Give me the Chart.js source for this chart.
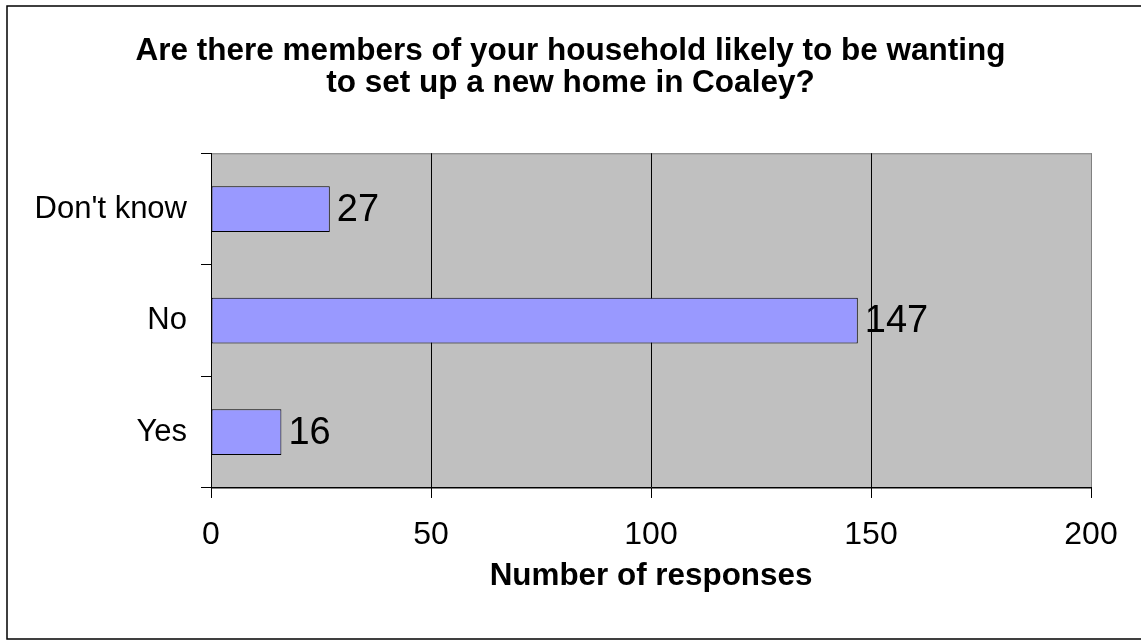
<!DOCTYPE html>
<html>
<head>
<meta charset="utf-8">
<script src="https://cdn.jsdelivr.net/npm/chart.js@4"></script>
<style>
  html, body { margin: 0; padding: 0; background: #fff; }
  #wrap { width: 1141px; height: 641px; }
</style>
</head>
<body>
<div id="wrap"><canvas id="householdChart" width="1141" height="641"></canvas></div>
<script>
// data
const categories = ["Don't know", 'No', 'Yes'];
const responses = [27, 147, 16];
const xTicks = [0, 50, 100, 150, 200];
const titleLines = [
  'Are there members of your household likely to be wanting',
  'to set up a new home in Coaley?',
];

const FONT = "'Liberation Sans', Arial, sans-serif";

// white page, black frame, grey plot area
const framePlugin = {
  id: 'frame',
  beforeDraw(chart) {
    const ctx = chart.ctx;
    ctx.save();
    ctx.fillStyle = '#fff';
    ctx.fillRect(0, 0, chart.width, chart.height);
    ctx.strokeStyle = '#000';
    ctx.lineWidth = 1.5;
    ctx.strokeRect(7, 6, 1145, 633);
    const a = chart.chartArea;
    ctx.fillStyle = '#c0c0c0';
    ctx.fillRect(a.left, a.top, a.right - a.left, a.bottom - a.top);
    ctx.strokeStyle = '#808080';
    ctx.lineWidth = 1;
    ctx.strokeRect(a.left + 0.5, a.top + 0.5, a.right - a.left, a.bottom - a.top);
    ctx.restore();
  },
};

// value labels to the right of each bar
const valueLabels = {
  id: 'valueLabels',
  afterDatasetsDraw(chart) {
    const ctx = chart.ctx;
    const meta = chart.getDatasetMeta(0);
    ctx.save();
    ctx.font = '38px ' + FONT;
    ctx.fillStyle = '#000';
    ctx.textAlign = 'left';
    ctx.textBaseline = 'middle';
    meta.data.forEach((bar, i) => {
      ctx.fillText(String(responses[i]), bar.x + 7, bar.y + 1);
    });
    ctx.restore();
  },
};

const householdConfig = {
  type: 'bar',
  data: {
    labels: categories,
    datasets: [
      {
        data: responses,
        backgroundColor: '#9999ff',
        borderColor: '#000',
        borderWidth: 1,
        borderSkipped: false,
        categoryPercentage: 1,
        barPercentage: 0.41,
      },
    ],
  },
  options: {
    indexAxis: 'y',
    responsive: false,
    animation: false,
    layout: {
      padding: { top: 32, left: 0, right: 0, bottom: 45 },
    },
    plugins: {
      legend: { display: false },
      tooltip: { enabled: false },
      title: {
        display: true,
        text: titleLines,
        color: '#000',
        font: { family: FONT, size: 31.5, weight: 'bold', lineHeight: 1.02 },
        padding: { top: 3, bottom: 54 },
      },
    },
    scales: {
      x: {
        type: 'linear',
        min: 0,
        max: 200,
        afterBuildTicks(scale) {
          scale.ticks = xTicks.map((v) => ({ value: v }));
        },
        grid: {
          color(ctx) {
            return ctx.tick && ctx.tick.value === 200 ? '#808080' : '#000';
          },
          tickColor: '#000',
          tickLength: 10,
          drawOnChartArea: true,
        },
        border: { display: true, color: '#000', width: 1 },
        ticks: {
          color: '#000',
          padding: 18,
          maxRotation: 0,
          font: { family: FONT, size: 32 },
        },
        title: {
          display: true,
          text: 'Number of responses',
          color: '#000',
          font: { family: FONT, size: 31.4, weight: 'bold', lineHeight: 0.23 },
          padding: { top: 0, bottom: 16.4 },
        },
      },
      y: {
        afterFit(scale) {
          scale.width = 211;
        },
        grid: {
          drawOnChartArea: false,
          color: '#000',
          tickColor: '#000',
          tickLength: 10,
          offset: true,
        },
        border: { display: true, color: '#000', width: 1 },
        ticks: {
          color: '#000',
          padding: 14,
          font: { family: FONT, size: 31 },
        },
      },
      // empty right-hand strip so the title centres on the page
      y2: {
        type: 'linear',
        position: 'right',
        display: true,
        grid: { display: false },
        border: { display: false },
        ticks: { display: false },
        afterFit(scale) {
          scale.width = 50;
        },
      },
    },
  },
  plugins: [framePlugin, valueLabels],
};

const householdChart = new Chart(
  document.getElementById('householdChart'),
  householdConfig
);
</script>
</body>
</html>
